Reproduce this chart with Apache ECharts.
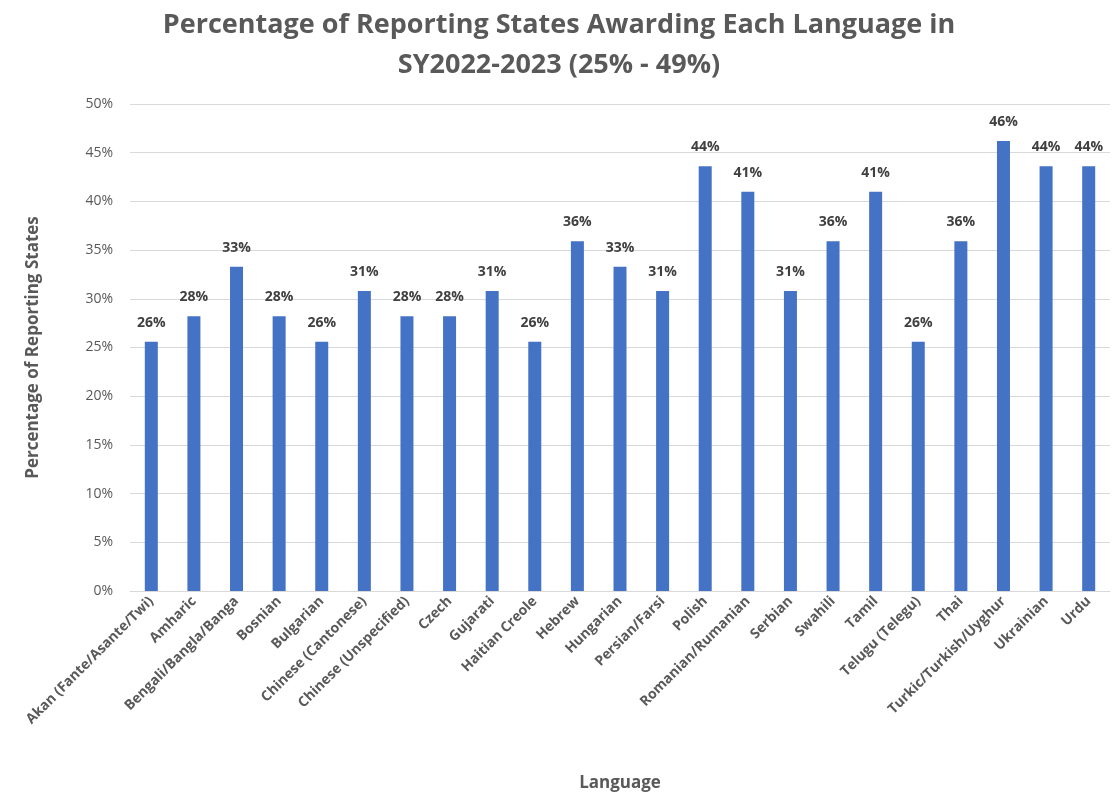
<!DOCTYPE html>
<html>
<head>
<meta charset="utf-8">
<script src="https://cdn.jsdelivr.net/npm/echarts@6/dist/echarts.min.js"></script>
<style>
  html, body { margin: 0; padding: 0; background: #fff; }
  #chart { width: 1118px; height: 797px; }
</style>
</head>
<body>
<div id="chart"></div>
<script>
// languages (x axis)
var languages = [
  "Akan (Fante/Asante/Twi)", "Amharic", "Bengali/Bangla/Banga", "Bosnian", "Bulgarian",
  "Chinese (Cantonese)", "Chinese (Unspecified)", "Czech", "Gujarati", "Haitian Creole",
  "Hebrew", "Hungarian", "Persian/Farsi", "Polish", "Romanian/Rumanian", "Serbian",
  "Swahili", "Tamil", "Telugu (Telegu)", "Thai", "Turkic/Turkish/Uyghur", "Ukrainian", "Urdu"
];
// percentage of reporting states
var percents = [
  25.6, 28.2, 33.3, 28.2, 25.6,
  30.8, 28.2, 28.2, 30.8, 25.6,
  35.9, 33.3, 30.8, 43.6, 41.0, 30.8,
  35.9, 41.0, 25.6, 35.9, 46.2, 43.6, 43.6
];
var yTicks = [0, 5, 10, 15, 20, 25, 30, 35, 40, 45, 50];

var font = "'Open Sans', 'Liberation Sans', sans-serif";
var grey = "#595959";

var myChart = echarts.init(document.getElementById("chart"));
myChart.setOption({
  textStyle: { fontFamily: font },
  title: {
    text: "Percentage of Reporting States Awarding Each Language in\nSY2022-2023 (25% - 49%)",
    left: "center",
    top: 0,
    textStyle: {
      fontFamily: font,
      fontSize: 27,
      fontWeight: "bold",
      color: grey,
      lineHeight: 40
    }
  },
  grid: { left: 130, right: 8, top: 104, bottom: 195, containLabel: false },
  xAxis: {
    type: "category",
    data: languages,
    name: "Language",
    nameLocation: "middle",
    nameGap: 184,
    nameTextStyle: { fontSize: 17, fontWeight: "bold", color: grey },
    axisLine: { lineStyle: { color: "#d9d9d9" } },
    axisTick: { show: false },
    axisLabel: {
      rotate: 45,
      interval: 0,
      fontSize: 14,
      fontWeight: "bold",
      color: grey,
      margin: 8
    }
  },
  yAxis: {
    type: "value",
    min: yTicks[0],
    max: yTicks[yTicks.length - 1],
    interval: 5,
    name: "Percentage of Reporting States",
    nameLocation: "middle",
    nameGap: 88,
    nameTextStyle: { fontSize: 17, fontWeight: "bold", color: grey },
    axisLine: { show: false },
    axisTick: { show: false },
    splitLine: { lineStyle: { color: "#d9d9d9" } },
    axisLabel: {
      fontSize: 14,
      color: grey,
      margin: 17,
      formatter: function (v) { return v + "%"; }
    }
  },
  series: [
    {
      name: "Percentage of Reporting States",
      type: "bar",
      data: percents,
      barWidth: 13,
      itemStyle: { color: "#4472c4" },
      label: {
        show: true,
        position: "top",
        distance: 12,
        fontSize: 14,
        fontWeight: "bold",
        color: "#404040",
        formatter: function (p) { return Math.round(p.value) + "%"; }
      }
    }
  ]
});
</script>
</body>
</html>
